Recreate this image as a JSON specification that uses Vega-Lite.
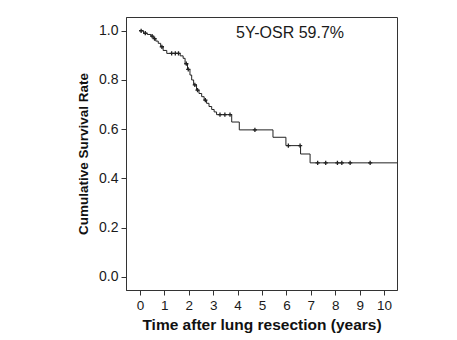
{
  "$schema": "https://vega.github.io/schema/vega-lite/v6.json",
  "width": 271,
  "height": 273,
  "autosize": {"type": "none"},
  "padding": {"left": 126, "top": 17, "right": 60, "bottom": 50},
  "background": "white",
  "config": {
    "font": "Liberation Sans",
    "view": {"stroke": "#333", "strokeWidth": 1},
    "axis": {
      "grid": false,
      "domainColor": "#333",
      "tickColor": "#333",
      "tickSize": 5,
      "labelColor": "#1a1a1a",
      "labelFont": "Liberation Sans",
      "labelFontSize": 14,
      "labelPadding": 3,
      "titleFont": "Liberation Sans",
      "titleFontSize": 14,
      "titleFontWeight": "bold",
      "titleColor": "#111"
    }
  },
  "datasets": {
    "km": [
      {"t": 0, "s": 1.0},
      {"t": 0.15, "s": 0.99},
      {"t": 0.3, "s": 0.985},
      {"t": 0.45, "s": 0.978},
      {"t": 0.55, "s": 0.968},
      {"t": 0.65, "s": 0.958},
      {"t": 0.75, "s": 0.949},
      {"t": 0.85, "s": 0.935},
      {"t": 0.95, "s": 0.92},
      {"t": 1.1, "s": 0.908},
      {"t": 1.65, "s": 0.898},
      {"t": 1.77, "s": 0.888},
      {"t": 1.85, "s": 0.866},
      {"t": 1.95, "s": 0.843},
      {"t": 2.05, "s": 0.82},
      {"t": 2.12, "s": 0.8},
      {"t": 2.2, "s": 0.78},
      {"t": 2.32, "s": 0.759},
      {"t": 2.42, "s": 0.745},
      {"t": 2.53, "s": 0.732},
      {"t": 2.63, "s": 0.718},
      {"t": 2.73, "s": 0.705},
      {"t": 2.83, "s": 0.692},
      {"t": 2.94, "s": 0.68},
      {"t": 3.04, "s": 0.67},
      {"t": 3.14, "s": 0.659},
      {"t": 3.76, "s": 0.629},
      {"t": 4.07, "s": 0.597},
      {"t": 5.45, "s": 0.567},
      {"t": 5.98, "s": 0.533},
      {"t": 6.58, "s": 0.499},
      {"t": 6.97, "s": 0.463},
      {"t": 10.53, "s": 0.463}
    ],
    "cens": [
      {"t": 0.05, "s": 1.0},
      {"t": 0.22, "s": 0.99},
      {"t": 0.5, "s": 0.978},
      {"t": 0.6, "s": 0.968},
      {"t": 0.9, "s": 0.935},
      {"t": 1.3, "s": 0.908},
      {"t": 1.45, "s": 0.908},
      {"t": 1.58, "s": 0.908},
      {"t": 1.9, "s": 0.866},
      {"t": 1.98, "s": 0.843},
      {"t": 2.25, "s": 0.78},
      {"t": 2.36, "s": 0.759},
      {"t": 2.68, "s": 0.718},
      {"t": 3.28, "s": 0.659},
      {"t": 3.48, "s": 0.659},
      {"t": 3.69, "s": 0.659},
      {"t": 4.71, "s": 0.597},
      {"t": 6.08, "s": 0.533},
      {"t": 6.56, "s": 0.533},
      {"t": 7.28, "s": 0.463},
      {"t": 7.61, "s": 0.463},
      {"t": 8.09, "s": 0.463},
      {"t": 8.27, "s": 0.463},
      {"t": 8.61, "s": 0.463},
      {"t": 9.43, "s": 0.463}
    ],
    "note": [
      {"t": 6.15, "s": 0.99, "label": "5Y-OSR 59.7%"}
    ]
  },
  "encoding": {
    "x": {
      "field": "t",
      "type": "quantitative",
      "scale": {"domain": [-0.57, 10.53], "nice": false, "zero": false},
      "axis": {
        "values": [0, 1, 2, 3, 4, 5, 6, 7, 8, 9, 10],
        "labelFontSize": 13.5,
        "title": "Time after lung resection (years)",
        "titleFontSize": 15.5,
        "titlePadding": 6
      }
    },
    "y": {
      "field": "s",
      "type": "quantitative",
      "scale": {"domain": [-0.054, 1.056], "nice": false, "zero": false},
      "axis": {
        "values": [0, 0.2, 0.4, 0.6, 0.8, 1.0],
        "format": ".1f",
        "title": "Cumulative Survival Rate",
        "titleFontSize": 13.5,
        "titlePadding": 8
      }
    }
  },
  "layer": [
    {
      "data": {"name": "km"},
      "mark": {"type": "line", "interpolate": "step-after", "color": "#222", "strokeWidth": 1}
    },
    {
      "data": {"name": "cens"},
      "mark": {"type": "point", "shape": "M-1,0H1M0,-1V1", "filled": false, "stroke": "#222", "size": 18, "strokeWidth": 1.3, "opacity": 1}
    },
    {
      "data": {"name": "note"},
      "mark": {"type": "text", "fontSize": 16, "color": "#1a1a1a", "align": "center", "baseline": "middle", "font": "Liberation Sans"},
      "encoding": {"text": {"field": "label"}}
    }
  ]
}
